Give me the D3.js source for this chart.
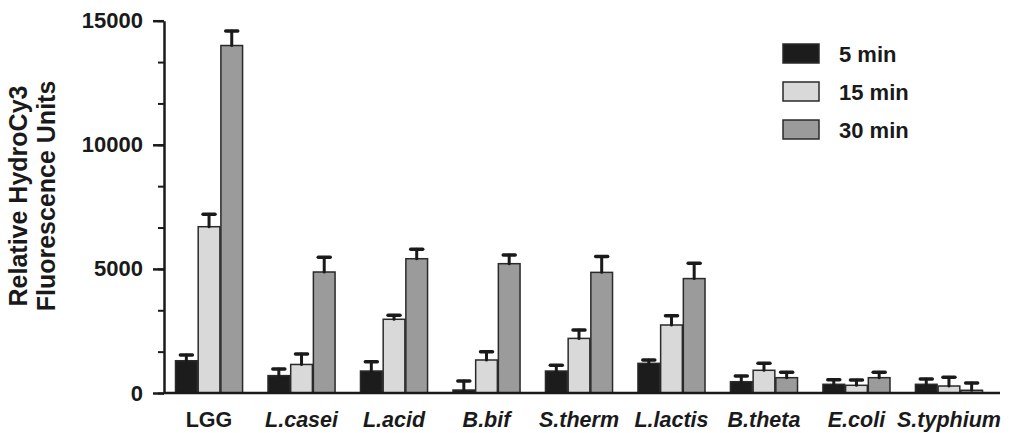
<!DOCTYPE html>
<html>
<head>
<meta charset="utf-8">
<script src="https://cdn.jsdelivr.net/npm/d3@7"></script>
<style>
  body { margin: 0; background: #fff; }
  text { font-family: "Liberation Sans", Arial, sans-serif; font-weight: bold; fill: #1a1a1a; }
</style>
</head>
<body>
<div id="chart"></div>
<script>
// data
var groups = ["LGG", "L.casei", "L.acid", "B.bif", "S.therm", "L.lactis", "B.theta", "E.coli", "S.typhium"];
var series = ["5 min", "15 min", "30 min"];
var min5 = [1300, 700, 885, 120, 885, 1195, 455, 350, 350];
var min5Err = [230, 270, 375, 360, 230, 135, 230, 185, 215];
var min15 = [6700, 1150, 2970, 1330, 2200, 2740, 915, 310, 282];
var min15Err = [500, 420, 160, 335, 340, 375, 280, 210, 350];
var min30 = [14000, 4875, 5410, 5210, 4860, 4610, 617, 617, 110];
var min30Err = [590, 595, 380, 350, 640, 615, 217, 217, 290];
var yTicks = [0, 5000, 10000, 15000];
var colors = ["#1c1c1c", "#d9d9d9", "#9b9b9b"];

var svgWidth = 1009;
var svgHeight = 433;

var svg = d3.select("#chart")
    .append("svg")
    .attr("width", svgWidth)
    .attr("height", svgHeight);

var values = [min5, min15, min30];
var errors = [min5Err, min15Err, min30Err];

var data = [];
groups.forEach(function(g, i) {
    series.forEach(function(s, j) {
        data.push({group: g, series: s, idx: j, value: values[j][i], err: errors[j][i]});
    });
});

var yScale = d3.scaleLinear()
    .domain([0, 15000])
    .range([393, 20.7]);

var xScale = d3.scaleBand()
    .domain(groups)
    .range([162.8, 995.2])
    .paddingInner(0.264)
    .paddingOuter(0.132);

var xInner = d3.scaleBand()
    .domain(series)
    .range([0, xScale.bandwidth()]);

// minor ticks
svg.append("g")
    .attr("transform", "translate(164,0)")
    .call(d3.axisLeft(yScale).tickValues(d3.range(0, 15001, 5000 / 3)).tickSize(6).tickFormat(""))
    .call(g => g.select(".domain").remove())
    .call(g => g.selectAll("line").attr("stroke", "#1a1a1a").attr("stroke-width", 2));

// major ticks + labels
var yAxis = svg.append("g")
    .attr("transform", "translate(164,0)")
    .call(d3.axisLeft(yScale).tickValues(yTicks).tickFormat(d3.format("d"))
        .tickSize(11).tickPadding(10).tickSizeOuter(0));
yAxis.select(".domain").attr("stroke", "#1a1a1a").attr("stroke-width", 2.5);
yAxis.selectAll("line").attr("stroke", "#1a1a1a").attr("stroke-width", 2.5);
yAxis.selectAll("text")
    .style("font-size", "22px")
    .attr("fill", "#1a1a1a");

// bars
var bars = svg.append("g");
bars.selectAll("rect")
    .data(data)
    .enter()
    .append("rect")
    .attr("x", d => xScale(d.group) + xInner(d.series) + 0.5)
    .attr("y", d => yScale(d.value))
    .attr("width", xInner.bandwidth() - 1)
    .attr("height", d => yScale(0) - yScale(d.value))
    .attr("fill", d => colors[d.idx])
    .attr("stroke", "#2a2a2a")
    .attr("stroke-width", 1.5);

// error bars (upper only)
var errG = svg.append("g")
    .attr("stroke", "#1a1a1a")
    .attr("stroke-linecap", "round");
errG.selectAll(".stem")
    .data(data)
    .enter()
    .append("line")
    .attr("x1", d => xScale(d.group) + xInner(d.series) + xInner.bandwidth() / 2)
    .attr("x2", d => xScale(d.group) + xInner(d.series) + xInner.bandwidth() / 2)
    .attr("y1", d => yScale(d.value))
    .attr("y2", d => yScale(d.value + d.err))
    .attr("stroke-width", 3);
errG.selectAll(".cap")
    .data(data)
    .enter()
    .append("line")
    .attr("x1", d => xScale(d.group) + xInner(d.series) + xInner.bandwidth() / 2 - 6)
    .attr("x2", d => xScale(d.group) + xInner(d.series) + xInner.bandwidth() / 2 + 6)
    .attr("y1", d => yScale(d.value + d.err))
    .attr("y2", d => yScale(d.value + d.err))
    .attr("stroke-width", 3.5);

// x axis line
svg.append("line")
    .attr("x1", 164)
    .attr("x2", 1000)
    .attr("y1", yScale(0))
    .attr("y2", yScale(0))
    .attr("stroke", "#1a1a1a")
    .attr("stroke-width", 2.5);

// x labels
svg.selectAll(".xlab")
    .data(groups)
    .enter()
    .append("text")
    .attr("x", d => xScale(d) + xScale.bandwidth() / 2)
    .attr("y", 427)
    .attr("text-anchor", "middle")
    .style("font-size", "21.5px")
    .style("font-style", d => d === "LGG" ? "normal" : "italic")
    .text(d => d);

// y title
var title = svg.append("text")
    .attr("transform", "translate(0,196) rotate(-90)")
    .attr("text-anchor", "middle")
    .style("font-size", "25px");
title.append("tspan").attr("x", 0).attr("y", 27).text("Relative HydroCy3");
title.append("tspan").attr("x", 0).attr("y", 55).text("Fluorescence Units");

// legend
var legend = svg.selectAll(".legend")
    .data(series)
    .enter()
    .append("g")
    .attr("transform", (d, i) => `translate(783, ${44 + i * 38})`);
legend.append("rect")
    .attr("width", 36)
    .attr("height", 19)
    .attr("fill", (d, i) => colors[i])
    .attr("stroke", "#2a2a2a")
    .attr("stroke-width", 1.5);
legend.append("text")
    .attr("x", 56)
    .attr("y", 18)
    .style("font-size", "22px")
    .text(d => d);
</script>
</body>
</html>
